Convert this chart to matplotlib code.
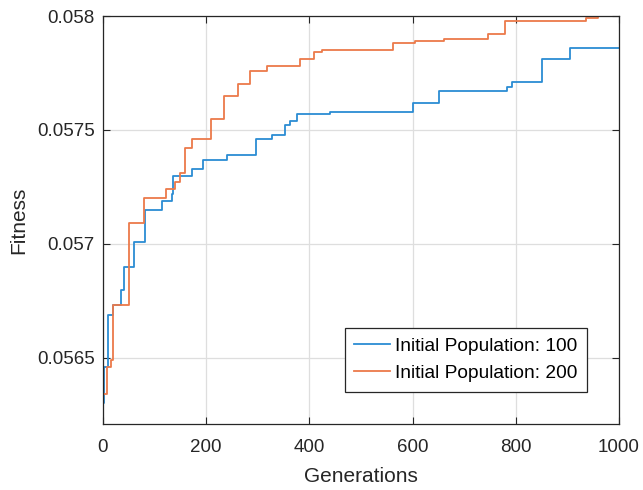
import matplotlib
matplotlib.use('Agg')
import matplotlib.pyplot as plt

plt.rcParams['font.family'] = ['Liberation Sans', 'DejaVu Sans']

# change points of the best fitness (step curves)
gen_100 = [0, 2, 9, 20, 35, 41, 61, 81, 114, 134, 136, 173, 194, 240, 297, 327,
           353, 362, 375, 440, 600, 652, 782, 792, 850, 905, 1000]
fit_100 = [0.05630, 0.05646, 0.05669, 0.05673, 0.05680, 0.05690, 0.05701, 0.05715,
           0.05719, 0.05722, 0.05730, 0.05733, 0.05737, 0.05739, 0.05746, 0.05748,
           0.05752, 0.05754, 0.05757, 0.05758, 0.05762, 0.05767, 0.05769, 0.05771,
           0.05781, 0.05786, 0.05786]

gen_200 = [0, 7, 15, 20, 51, 79, 123, 139, 150, 159, 172, 209, 234, 262, 285, 317,
           382, 408, 425, 562, 605, 660, 747, 779, 937, 959, 1000]
fit_200 = [0.05634, 0.05646, 0.05649, 0.05673, 0.05709, 0.05720, 0.05724, 0.05727,
           0.05731, 0.05742, 0.05746, 0.05755, 0.05765, 0.05770, 0.05776, 0.05778,
           0.05781, 0.05784, 0.05785, 0.05788, 0.05789, 0.05790, 0.05792, 0.05798,
           0.05799, 0.05800, 0.05800]

labels = ['Initial Population: 100', 'Initial Population: 200']
x_ticks = [0, 200, 400, 600, 800, 1000]
y_ticks = [0.0565, 0.057, 0.0575, 0.058]
y_tick_labels = ['0.0565', '0.057', '0.0575', '0.058']

fig = plt.figure(figsize=(6.43, 4.9), dpi=100)
ax = fig.add_axes([103/643, 1-424/490, 516/643, 408/490])

ax.plot(gen_100, fit_100, drawstyle='steps-post', color='#2b8cd3', lw=1.3, label=labels[0])
ax.plot(gen_200, fit_200, drawstyle='steps-post', color='#ec7a4a', lw=1.3, label=labels[1])

ax.set_xlim(0, 1000)
ax.set_ylim(0.05621, 0.058)
ax.set_xticks(x_ticks)
ax.set_yticks(y_ticks)
ax.set_yticklabels(y_tick_labels)
ax.grid(True, color='#dedede', lw=0.9)
ax.set_axisbelow(True)

ax.tick_params(direction='in', length=5, width=0.8, top=True, right=True,
               labelsize=13.5, colors='#262626')
ax.tick_params(axis='x', pad=11)
ax.tick_params(axis='y', pad=6)
for s in ax.spines.values():
    s.set_color('#262626')
    s.set_linewidth(0.9)

ax.set_xlabel('Generations', fontsize=15, color='#262626', labelpad=7.5)
ax.set_ylabel('Fitness', fontsize=15, color='#262626', labelpad=6)

leg = ax.legend(loc='lower right', bbox_to_anchor=(0.9374, 0.079), borderaxespad=0,
                fancybox=False, fontsize=13.8, handlelength=1.85, handletextpad=0.25,
                labelspacing=0.5, borderpad=0.5, framealpha=1)
leg.get_frame().set_edgecolor('#262626')
leg.get_frame().set_linewidth(0.9)

fig.savefig('out.png', dpi=100)
